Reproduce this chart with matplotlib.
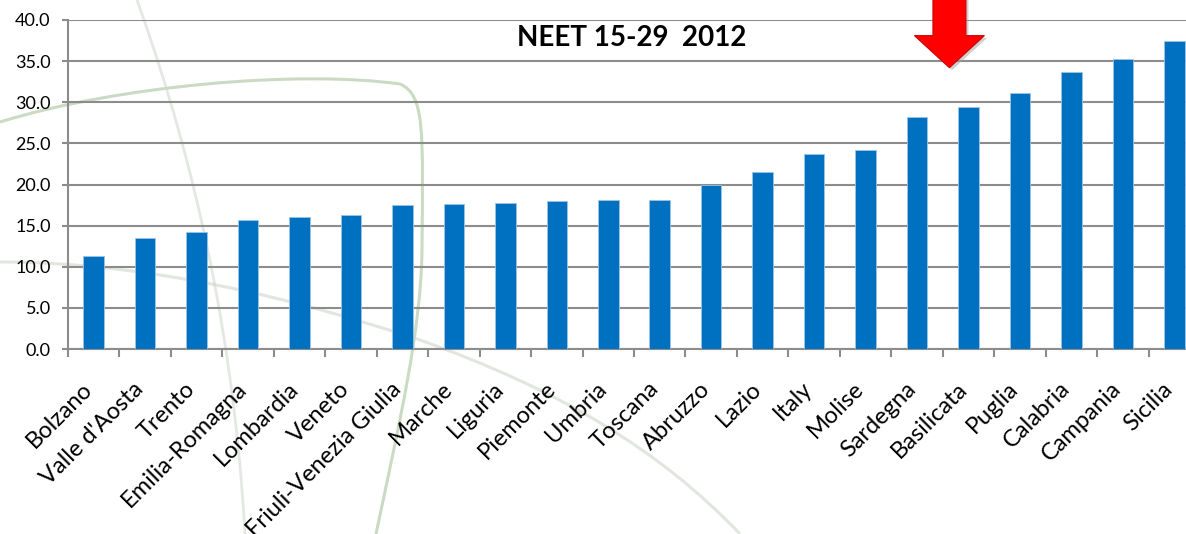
import numpy as np
import matplotlib
matplotlib.use("Agg")
from matplotlib import pyplot as plt
from matplotlib.patches import Polygon, PathPatch
from matplotlib.path import Path

# data
regions = ["Bolzano", "Valle d'Aosta", "Trento", "Emilia-Romagna", "Lombardia",
           "Veneto", "Friuli-Venezia Giulia", "Marche", "Liguria", "Piemonte",
           "Umbria", "Toscana", "Abruzzo", "Lazio", "Italy", "Molise",
           "Sardegna", "Basilicata", "Puglia", "Calabria", "Campania", "Sicilia"]
neet = [11.3, 13.5, 14.2, 15.7, 16.0, 16.3, 17.5, 17.6, 17.7, 18.0,
        18.1, 18.1, 19.9, 21.5, 23.7, 24.2, 28.2, 29.4, 31.1, 33.7, 35.2, 37.4]
yticks = [0, 5, 10, 15, 20, 25, 30, 35, 40]
title = "NEET 15-29  2012"
highlight = "Basilicata"

plt.rcParams['font.family'] = ['Lato', 'DejaVu Sans']

W, H = 1186, 534
fig = plt.figure(figsize=(W / 100, H / 100), dpi=100)

# faint decorative curves in the background (pixel coords, y from top)
def deco(pts, col, lw):
    pts = np.array(pts, float)
    pts[:, 0] = pts[:, 0] / W
    pts[:, 1] = 1 - pts[:, 1] / H
    codes = [Path.MOVETO] + [Path.CURVE4] * (len(pts) - 1)
    fig.add_artist(PathPatch(Path(pts, codes), transform=fig.transFigure,
                             facecolor='none', edgecolor=col, lw=lw,
                             alpha=0.6, zorder=-5))

deco([(0, 122), (120, 85), (300, 70), (400, 84),
      (425, 95), (423, 130), (422, 250),
      (421, 330), (400, 420), (376, 534)], '#a9c29a', 2.2)
deco([(137, 0), (180, 120), (232, 300), (245, 534)], '#d3d9d0', 2.0)
deco([(0, 262), (150, 262), (300, 300), (420, 340),
      (560, 390), (660, 450), (740, 534)], '#cdd6c8', 2.2)

# plot area runs past the right edge of the picture
ax = fig.add_axes([68 / W, 1 - 349 / H, 1132 / W, 329 / H])
ax.set_facecolor('none')

x = np.arange(len(regions))
ax.bar(x, neet, width=0.4, color='#0070C0', edgecolor='#9dc3e6', lw=0.6, zorder=3)

ax.set_xlim(-0.5, len(regions) - 0.5)
ax.set_ylim(0, 40)
ax.set_yticks(yticks)
ax.set_yticklabels(["%.1f" % v for v in yticks], fontsize=13)

ax.set_xticks(x + 0.05)
ax.set_xticklabels(regions, rotation=45, ha='right', va='top', fontsize=17)
ax.tick_params(axis='x', length=0, pad=21)
ax.set_xticks(np.arange(-0.5, len(regions), 1), minor=True)
ax.tick_params(axis='x', which='minor', length=6, width=1.5, color='#8c8c8c')
ax.tick_params(axis='y', length=4.5, width=1.5, color='#8c8c8c', pad=8)

ax.grid(axis='y', color='#8c8c8c', lw=1.5, zorder=0)
for s in ['top', 'right']:
    ax.spines[s].set_visible(False)
for s in ['left', 'bottom']:
    ax.spines[s].set_color('#8c8c8c')
    ax.spines[s].set_linewidth(1.5)

ax.text(10.45, 37.8, title, ha='center', va='center', fontsize=20, fontweight='bold')

# red arrow pointing down at the highlighted region
xa = regions.index(highlight) - 0.37
sh, hw = 0.32, 0.68
arrow = [(xa - sh, 43.5), (xa + sh, 43.5), (xa + sh, 38.1), (xa + hw, 38.1),
         (xa, 34.2), (xa - hw, 38.1), (xa - sh, 38.1)]
shadow = [(px + 0.05, py - 0.3) for px, py in arrow]
ax.add_patch(Polygon(shadow, closed=True, facecolor='#a0a0a0', edgecolor='none',
                     alpha=0.5, clip_on=False, zorder=4))
ax.add_patch(Polygon(arrow, closed=True, facecolor='#ff0000', edgecolor='#d00000',
                     lw=0.8, clip_on=False, zorder=5))

fig.savefig("out.png", dpi=100)
